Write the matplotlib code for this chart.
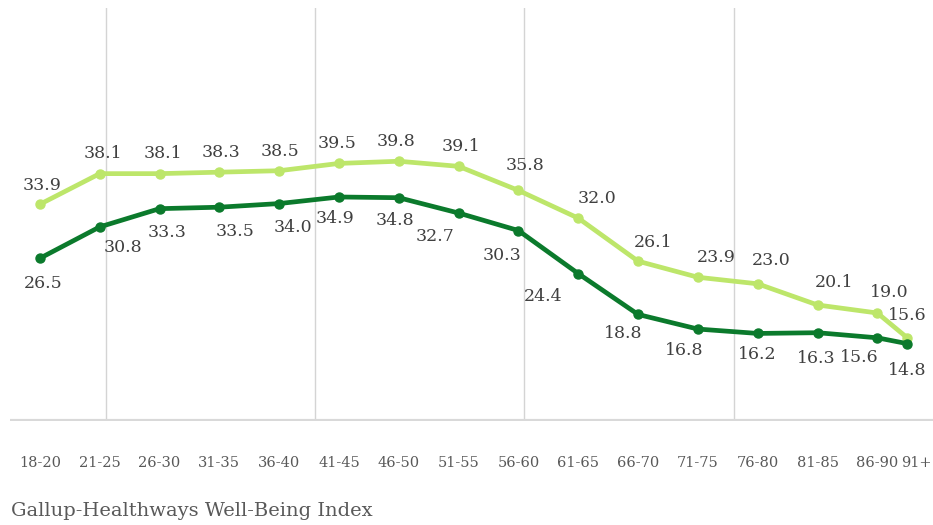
import matplotlib
matplotlib.use("Agg")
import matplotlib.pyplot as plt
import matplotlib.transforms as mtransforms
import numpy as np

# ---- data ----
age_groups = ["18-20", "21-25", "26-30", "31-35", "36-40", "41-45", "46-50", "51-55",
              "56-60", "61-65", "66-70", "71-75", "76-80", "81-85", "86-90", "91+"]
series_light = [33.9, 38.1, 38.1, 38.3, 38.5, 39.5, 39.8, 39.1,
                35.8, 32.0, 26.1, 23.9, 23.0, 20.1, 19.0, 15.6]
series_dark = [26.5, 30.8, 33.3, 33.5, 34.0, 34.9, 34.8, 32.7,
               30.3, 24.4, 18.8, 16.8, 16.2, 16.3, 15.6, 14.8]
source_note = "Gallup-Healthways Well-Being Index"

# ---- layout ----
x = np.arange(len(age_groups), dtype=float)
x[-1] = x[-2] + 0.5          # last category is drawn closer in the original
grid_x = [1.1, 4.6, 8.1, 11.6]

light_off = [(2, 19), (3, 20), (3, 20), (2, 20), (1, 19), (-2, 20), (-3, 20), (2, 20),
             (7, 25), (19, 20), (15, 19), (18, 20), (13, 23), (17, 22), (12, 21), (0, 22)]
dark_off = [(3, -25), (23, -21), (8, -24), (16, -24), (14, -24), (-4, -22), (-4, -23), (-24, -23),
            (-16, -25), (-35, -23), (-15, -19), (-14, -21), (0, -21), (-1, -26), (-18, -20), (0, -27)]

LIGHT = "#bde66a"
DARK = "#0b7a2c"
FONT = "DejaVu Serif"

fig = plt.figure(figsize=(9.33, 5.25), dpi=100)
ax = fig.add_axes([10 / 933, 104 / 525, 923 / 933, 413 / 525])
ax.set_xlim(-0.5, 14.93)
ax.set_ylim(4.2, 60.8)

for gx in grid_x:
    ax.axvline(gx, color="#d4d4d4", lw=1.0, zorder=0)
ax.axhline(4.2, color="#d9d9d9", lw=3, zorder=1)

ax.plot(x, series_light, color=LIGHT, lw=3.4, marker="o", ms=6.5, zorder=3,
        solid_capstyle="round", solid_joinstyle="round")
ax.plot(x, series_dark, color=DARK, lw=3.4, marker="o", ms=6.5, zorder=4,
        solid_capstyle="round", solid_joinstyle="round")

for xi, v, (dx, dy) in zip(x, series_light, light_off):
    ax.annotate(f"{v:.1f}", (xi, v), xytext=(dx, dy), textcoords="offset pixels",
                ha="center", va="center", fontsize=12.5, color="#404040", family=FONT, zorder=5)
for xi, v, (dx, dy) in zip(x, series_dark, dark_off):
    ax.annotate(f"{v:.1f}", (xi, v), xytext=(dx, dy), textcoords="offset pixels",
                ha="center", va="center", fontsize=12.5, color="#404040", family=FONT, zorder=5)

for spine in ax.spines.values():
    spine.set_visible(False)
ax.set_yticks([])
ax.set_xticks(x)
ax.set_xticklabels(age_groups, fontsize=10.5, color="#595959", family=FONT)
ax.tick_params(axis="x", length=0, pad=25)
lbl = ax.get_xticklabels()[-1]
lbl.set_transform(lbl.get_transform() + mtransforms.ScaledTranslation(9 / 100, 0, fig.dpi_scale_trans))

fig.text(11 / 933, 1 - 511 / 525, source_note, fontsize=14, color="#595959",
         family=FONT, ha="left", va="center")

fig.savefig("out.png", dpi=100, facecolor="white")
